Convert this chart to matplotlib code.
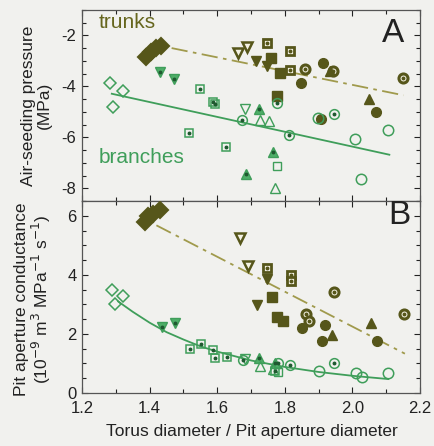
import matplotlib
matplotlib.use('Agg')
import matplotlib.pyplot as plt
from matplotlib.ticker import MultipleLocator

plt.rcParams['font.family'] = ['Liberation Sans', 'DejaVu Sans']

# --- data (x = torus / aperture diameter) ---
# panel A: air-seeding pressure (MPa), panel B: pit aperture conductance
# trunks
t_diam_xA = [1.39, 1.405, 1.42, 1.435]
t_diam_yA = [-2.85, -2.65, -2.5, -2.4]
t_diam_xB = [1.385, 1.395, 1.41, 1.43]
t_diam_yB = [5.8, 6.0, 6.05, 6.2]

t_odown_xA = [1.662, 1.688]
t_odown_yA = [-2.71, -2.47]
t_odown_xB = [1.667, 1.692]
t_odown_yB = [5.25, 4.30]

t_fdown_xA = [1.715, 1.747]
t_fdown_yA = [-3.02, -3.22]
t_fdown_xB = [1.748, 1.717]
t_fdown_yB = [3.85, 2.99]

t_dsq_xA = [1.747, 1.815, 1.815]
t_dsq_yA = [-2.31, -2.63, -3.37]
t_dsq_xB = [1.748, 1.817, 1.817]
t_dsq_yB = [4.22, 4.0, 3.78]

t_fsq_xA = [1.759, 1.786, 1.776]
t_fsq_yA = [-2.88, -3.48, -4.39]
t_fsq_xB = [1.761, 1.778, 1.794]
t_fsq_yB = [3.25, 2.57, 2.43]

t_fcirc_xA = [1.848, 1.913, 1.907, 2.07]
t_fcirc_yA = [-3.87, -3.10, -5.29, -5.0]
t_fcirc_xB = [1.85, 1.919, 1.909, 2.072]
t_fcirc_yB = [2.21, 2.29, 1.76, 1.76]

t_dcirc_xA = [1.86, 1.943, 2.15]
t_dcirc_yA = [-3.33, -3.41, -3.69]
t_dcirc_xB = [1.863, 1.87, 1.946, 2.151]
t_dcirc_yB = [2.68, 2.43, 3.41, 2.68]

t_fup_xA = [2.049, 1.933]
t_fup_yA = [-4.5, -3.4]
t_fup_xB = [2.055, 1.939]
t_fup_yB = [2.38, 1.98]

# branches
b_diam_xA = [1.283, 1.321, 1.292]
b_diam_yA = [-3.88, -4.2, -4.82]
b_diam_xB = [1.288, 1.322, 1.298]
b_diam_yB = [3.50, 3.27, 3.03]

b_ddown_xA = [1.431, 1.472]
b_ddown_yA = [-3.45, -3.73]
b_ddown_xB = [1.436, 1.475]
b_ddown_yB = [2.23, 2.38]

b_dsq_xA = [1.549, 1.588, 1.592, 1.517, 1.626]
b_dsq_yA = [-4.12, -4.6, -4.68, -5.84, -6.39]
b_dsq_xB = [1.518, 1.552, 1.587, 1.593, 1.628, 1.77]
b_dsq_yB = [1.48, 1.65, 1.45, 1.2, 1.23, 0.75]

b_odown_xA = [1.682]
b_odown_yA = [-4.9]
b_odown_xB = [1.682]
b_odown_yB = [1.14]

b_dup_xA = [1.724, 1.765, 1.685]
b_dup_yA = [-4.9, -6.59, -7.45]
b_dup_xB = [1.724, 1.77]
b_dup_yB = [1.17, 1.0]

b_oup_xA = [1.727, 1.753, 1.771]
b_oup_yA = [-5.3, -5.37, -8.0]
b_oup_xB = [1.727, 1.765]
b_oup_yB = [0.92, 0.80]

b_osq_xA = [1.777]
b_osq_yA = [-7.14]
b_osq_xB = [1.78]
b_osq_yB = [0.72]

b_dcirc_xA = [1.673, 1.812, 1.777, 1.946]
b_dcirc_yA = [-5.33, -5.92, -4.67, -5.1]
b_dcirc_xB = [1.677, 1.815, 1.779, 1.946]
b_dcirc_yB = [1.11, 0.94, 1.01, 1.03]

b_ocirc_xA = [1.898, 2.008, 2.105, 2.025]
b_ocirc_yA = [-5.25, -6.08, -5.73, -7.65]
b_ocirc_xB = [1.901, 2.01, 2.027, 2.106]
b_ocirc_yB = [0.75, 0.66, 0.53, 0.66]

# regression lines (end points / curve points)
trunk_fit_xA = [1.465, 2.151]
trunk_fit_yA = [-2.50, -4.35]
branch_fit_xA = [1.288, 2.109]
branch_fit_yA = [-4.29, -6.68]
trunk_fit_xB = [1.42, 2.155]
trunk_fit_yB = [5.68, 1.33]
branch_fit_xB = [1.307, 1.35, 1.4, 1.45, 1.5, 1.55, 1.6, 1.7, 1.8, 1.9, 2.0, 2.106]
branch_fit_yB = [3.10, 2.75, 2.38, 2.06, 1.81, 1.58, 1.40, 1.10, 0.88, 0.71, 0.58, 0.47]

TC = '#56561a'
BC = '#3f9e5a'
LIGHT = '#f4f2e4'
BG = '#f1f1ee'

# (xA, yA, xB, yB, marker, size, face, edge, edge width, dot colour)
groups = [
    (t_diam_xA, t_diam_yA, t_diam_xB, t_diam_yB, 'D', 8.0, TC, TC, 1.5, None),
    (t_odown_xA, t_odown_yA, t_odown_xB, t_odown_yB, 'v', 7.0, LIGHT, TC, 1.8, None),
    (t_fdown_xA, t_fdown_yA, t_fdown_xB, t_fdown_yB, 'v', 7.0, TC, TC, 1.0, None),
    (t_dsq_xA, t_dsq_yA, t_dsq_xB, t_dsq_yB, 's', 6.0, LIGHT, TC, 2.0, TC),
    (t_fsq_xA, t_fsq_yA, t_fsq_xB, t_fsq_yB, 's', 6.5, TC, TC, 1.0, None),
    (t_fcirc_xA, t_fcirc_yA, t_fcirc_xB, t_fcirc_yB, 'o', 7.0, TC, TC, 1.0, None),
    (t_dcirc_xA, t_dcirc_yA, t_dcirc_xB, t_dcirc_yB, 'o', 6.5, LIGHT, TC, 2.2, TC),
    (t_fup_xA, t_fup_yA, t_fup_xB, t_fup_yB, '^', 7.0, TC, TC, 1.0, None),
    (b_diam_xA, b_diam_yA, b_diam_xB, b_diam_yB, 'D', 6.5, 'none', BC, 1.1, None),
    (b_ddown_xA, b_ddown_yA, b_ddown_xB, b_ddown_yB, 'v', 6.5, '#4fae68', BC, 1.0, '#1f5a30'),
    (b_dsq_xA, b_dsq_yA, b_dsq_xB, b_dsq_yB, 's', 6.0, 'none', BC, 1.1, '#1f5a30'),
    (b_odown_xA, b_odown_yA, b_odown_xB, b_odown_yB, 'v', 6.5, 'none', BC, 1.0, None),
    (b_dup_xA, b_dup_yA, b_dup_xB, b_dup_yB, '^', 6.5, '#4fae68', BC, 1.0, '#1f5a30'),
    (b_oup_xA, b_oup_yA, b_oup_xB, b_oup_yB, '^', 6.5, 'none', BC, 1.0, None),
    (b_osq_xA, b_osq_yA, b_osq_xB, b_osq_yB, 's', 6.0, 'none', BC, 1.0, None),
    (b_dcirc_xA, b_dcirc_yA, b_dcirc_xB, b_dcirc_yB, 'o', 7.0, 'none', BC, 1.1, '#1f5a30'),
    (b_ocirc_xA, b_ocirc_yA, b_ocirc_xB, b_ocirc_yB, 'o', 7.5, 'none', BC, 1.1, None),
]

fig = plt.figure(figsize=(4.34, 4.46), dpi=100, facecolor=BG)
axA = fig.add_axes([0.189, 0.549, 0.779, 0.429], facecolor=BG)
axB = fig.add_axes([0.189, 0.119, 0.779, 0.430], facecolor=BG, sharex=axA)

dash_trunk = (0, (9, 3, 2, 3))
axA.plot(branch_fit_xA, branch_fit_yA, color=BC, lw=1.3, zorder=1)
axA.plot(trunk_fit_xA, trunk_fit_yA, color='#a09a4c', lw=1.3, linestyle=dash_trunk, zorder=1)
axB.plot(branch_fit_xB, branch_fit_yB, color=BC, lw=1.3, zorder=1)
axB.plot(trunk_fit_xB, trunk_fit_yB, color='#a09a4c', lw=1.3, linestyle=dash_trunk, zorder=1)

for xa, ya, xb, yb, m, ms, fc, ec, ew, dot in groups:
    for ax, xs, ys in ((axA, xa, ya), (axB, xb, yb)):
        ax.plot(xs, ys, linestyle='none', marker=m, ms=ms, mfc=fc, mec=ec, mew=ew, zorder=3)
        if dot:
            ax.plot(xs, ys, linestyle='none', marker='o', ms=1.8, mfc=dot, mec=dot, zorder=4)

axA.set_xlim(1.2, 2.2)
axA.set_ylim(-8.5, -1.0)
axB.set_ylim(0, 6.5)

for ax in (axA, axB):
    ax.xaxis.set_major_locator(MultipleLocator(0.2))
    ax.xaxis.set_minor_locator(MultipleLocator(0.1))
    ax.yaxis.set_major_locator(MultipleLocator(2))
    ax.yaxis.set_minor_locator(MultipleLocator(0.5))
    ax.tick_params(which='both', direction='in', top=True, right=True,
                   labelsize=12, colors='#222222', length=4, width=0.8)
    ax.tick_params(which='minor', length=3)
    ax.tick_params(axis='y', pad=4)
    ax.tick_params(axis='x', pad=6)
    for s in ax.spines.values():
        s.set_color('#555555')
        s.set_linewidth(0.9)

axA.tick_params(labelbottom=False)
axB.set_xticks([1.2, 1.4, 1.6, 1.8, 2.0, 2.2])
axB.set_xticklabels(['1.2', '1.4', '1.6', '1.8', '2.0', '2.2'])
axA.set_yticks([-2, -4, -6, -8])
axA.set_yticklabels(['-2', '-4', '-6', '-8'])

axA.set_ylabel('Air-seeding pressure\n(MPa)', fontsize=12.5, color='#222222', linespacing=1.05)
axA.yaxis.set_label_coords(-0.09, 0.5)
axB.set_ylabel('Pit aperture conductance\n(10$^{-9}$ m$^{3}$ MPa$^{-1}$ s$^{-1}$)',
               fontsize=12.5, color='#222222', linespacing=1.05)
axB.yaxis.set_label_coords(-0.085, 0.49)
axB.set_xlabel('Torus diameter / Pit aperture diameter', fontsize=12.5, color='#222222')
axB.xaxis.set_label_coords(0.503, -0.16)

axA.text(1.25, -1.5, 'trunks', fontsize=15, color='#66661e', va='center', ha='left')
axA.text(1.25, -6.78, 'branches', fontsize=15, color=BC, va='center', ha='left')
axA.text(2.12, -1.93, 'A', fontsize=24, color='#222222', va='center', ha='center')
axB.text(2.14, 6.0, 'B', fontsize=24, color='#222222', va='center', ha='center')

fig.savefig('out.png', dpi=100, facecolor=BG)
